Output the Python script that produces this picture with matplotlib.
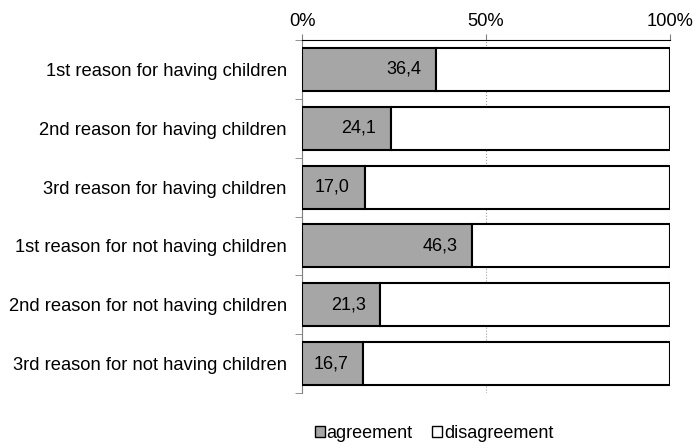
import numpy as np
import matplotlib
matplotlib.use("Agg")
import matplotlib.pyplot as plt
from matplotlib.patches import Patch

plt.rcParams["font.family"] = ["Liberation Sans", "DejaVu Sans"]

categories = [
    "1st reason for having children",
    "2nd reason for having children",
    "3rd reason for having children",
    "1st reason for not having children",
    "2nd reason for not having children",
    "3rd reason for not having children",
]
agreement = [36.4, 24.1, 17.0, 46.3, 21.3, 16.7]
disagreement = [100 - v for v in agreement]
x_ticks = [0, 50, 100]
x_ticklabels = ["0%", "50%", "100%"]

FS = 13.2

fig = plt.figure(figsize=(6.93, 4.45), dpi=100)
ax = fig.add_axes([302 / 693, 1 - 393 / 445, 368 / 693, 353 / 445])

y = np.arange(len(categories))
ax.barh(y, agreement, height=0.73, color="#a6a6a6", edgecolor="black", linewidth=1.5, zorder=3)
ax.barh(y, disagreement, left=agreement, height=0.73, color="white", edgecolor="black",
        linewidth=1.5, zorder=3)

for yi, v in zip(y, agreement):
    ax.text(v - 4, yi, f"{v:.1f}".replace(".", ","), ha="right", va="center",
            fontsize=13, zorder=4)

ax.set_xlim(0, 100)
ax.set_ylim(len(categories) - 0.5, -0.5)
ax.xaxis.tick_top()
ax.set_xticks(x_ticks)
ax.set_xticklabels(x_ticklabels, fontsize=FS)
ax.tick_params(axis="x", length=4, color="#808080", pad=3)
ax.grid(axis="x", linestyle=":", color="#a0a0a0", linewidth=0.8, zorder=0)

ax.set_yticks(y)
ax.set_yticklabels(categories, fontsize=FS)
ax.tick_params(axis="y", which="major", length=0, pad=11)
ax.set_yticks(np.arange(-0.5, len(categories)), minor=True)
ax.tick_params(axis="y", which="minor", length=5, color="#808080")

for s in ["right", "bottom"]:
    ax.spines[s].set_visible(False)
ax.spines["top"].set_color("black")
ax.spines["left"].set_color("#808080")

handles = [Patch(facecolor="#a6a6a6", edgecolor="black", label="agreement"),
           Patch(facecolor="white", edgecolor="black", label="disagreement")]
fig.legend(handles=handles, loc="center", bbox_to_anchor=(434 / 693, 1 - 433 / 445), ncol=2,
           frameon=False, fontsize=13, handlelength=0.55, handleheight=0.55,
           handletextpad=0.1, columnspacing=1.1)

fig.savefig("out.png", dpi=100)
